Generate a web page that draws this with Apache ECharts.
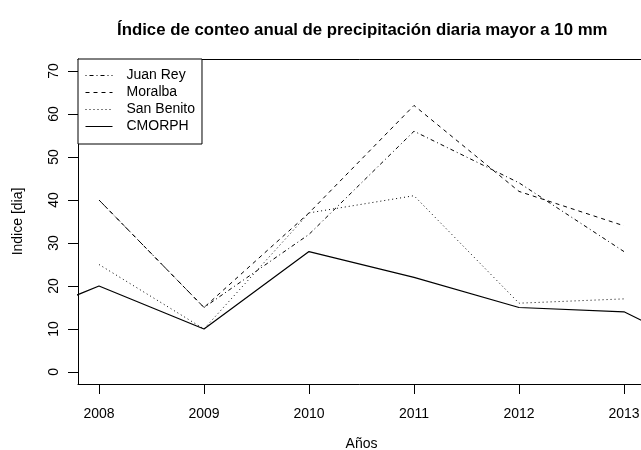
<!DOCTYPE html>
<html>
<head>
<meta charset="utf-8">
<script src="https://cdn.jsdelivr.net/npm/echarts@6/dist/echarts.min.js"></script>
<style>
  html, body { margin: 0; padding: 0; background: #fff; }
  #chart { width: 641px; height: 450px; }
</style>
</head>
<body>
<div id="chart"></div>
<script>
var years = [2008, 2009, 2010, 2011, 2012, 2013]
var yTicks = [0, 10, 20, 30, 40, 50, 60, 70]
var juanRey = [40, 15, 32, 56, 44, 28]
var moralba = [40, 15, 37, 62, 42, 34]
var sanBenito = [25, 10, 37, 41, 16, 17]
// CMORPH runs past the plot on both sides
var cmorphYears = [2007, 2008, 2009, 2010, 2011, 2012, 2013, 2014]
var cmorph = [10, 20, 10, 28, 22, 15, 14, 2]

function pairs (xs, ys) {
  return xs.map(function (x, i) { return [x, ys[i]] })
}

function lineSeries (name, data, dash, width) {
  return {
    name: name,
    type: 'line',
    data: data,
    symbol: 'none',
    silent: true,
    clip: true,
    itemStyle: { color: '#000' },
    lineStyle: { color: '#000', width: width, type: dash }
  }
}

var font = 'Liberation Sans, Arial, Helvetica, sans-serif'
var chart = echarts.init(document.getElementById('chart'), null, { renderer: 'canvas' })

var option = {
  backgroundColor: '#fff',
  animation: false,
  title: {
    text: 'Índice de conteo anual de precipitación diaria mayor a 10 mm',
    left: 112,
    top: 17,
    textStyle: { fontFamily: font, fontSize: 16.8, fontWeight: 'bold', color: '#000' }
  },
  legend: {
    orient: 'vertical',
    left: 78,
    top: 59,
    padding: [9.5, 7, 10.5, 7],
    itemWidth: 27,
    itemHeight: 14,
    itemGap: 3,
    borderColor: '#000',
    borderWidth: 1,
    borderRadius: 0,
    backgroundColor: '#fff',
    selectedMode: false,
    itemStyle: { opacity: 0 },
    lineStyle: { width: 1 },
    data: ['Juan Rey', 'Moralba', 'San Benito', 'CMORPH'],
    textStyle: { fontFamily: font, fontSize: 14, color: '#000', padding: [0, 0, 0, 9] }
  },
  grid: { left: 78, top: 59, width: 567, height: 325, containLabel: false, outerBoundsMode: 'none' },
  xAxis: [{
    type: 'value',
    min: 2007.8,
    max: 2013.2,
    name: 'Años',
    nameLocation: 'middle',
    nameGap: 53,
    nameMoveOverlap: false,
    nameTextStyle: { fontFamily: font, fontSize: 14, color: '#000' },
    splitLine: { show: false },
    axisLine: { show: true, onZero: false, lineStyle: { color: '#000', width: 1 } },
    axisTick: { show: true, inside: false, length: 10, customValues: years, lineStyle: { color: '#000' } },
    axisLabel: { customValues: years, margin: 23.5, fontFamily: font, fontSize: 14, color: '#000',
      formatter: function (v) { return String(v) } }
  }, {
    type: 'value',
    position: 'top',
    min: 2007.8,
    max: 2013.2,
    splitLine: { show: false },
    axisLine: { show: true, onZero: false, lineStyle: { color: '#000', width: 1 } },
    axisTick: { show: false },
    axisLabel: { show: false }
  }],
  yAxis: {
    type: 'value',
    min: -2.8,
    max: 72.8,
    name: 'Indice [dia]',
    nameLocation: 'middle',
    nameGap: 53,
    nameMoveOverlap: false,
    nameTextStyle: { fontFamily: font, fontSize: 14, color: '#000' },
    splitLine: { show: false },
    axisLine: { show: true, onZero: false, lineStyle: { color: '#000', width: 1 } },
    axisTick: { show: true, length: 10, customValues: yTicks, lineStyle: { color: '#000' } },
    axisLabel: { customValues: yTicks, rotate: 90, margin: 17, fontFamily: font, fontSize: 14, color: '#000' }
  },
  series: [
    lineSeries('Juan Rey', pairs(years, juanRey), [1, 3, 4, 3], 1),
    lineSeries('Moralba', pairs(years, moralba), [4, 4], 1),
    lineSeries('San Benito', pairs(years, sanBenito), [1, 3], 1),
    lineSeries('CMORPH', pairs(cmorphYears, cmorph), 'solid', 1.2)
  ]
}

chart.setOption(option)
</script>
</body>
</html>
